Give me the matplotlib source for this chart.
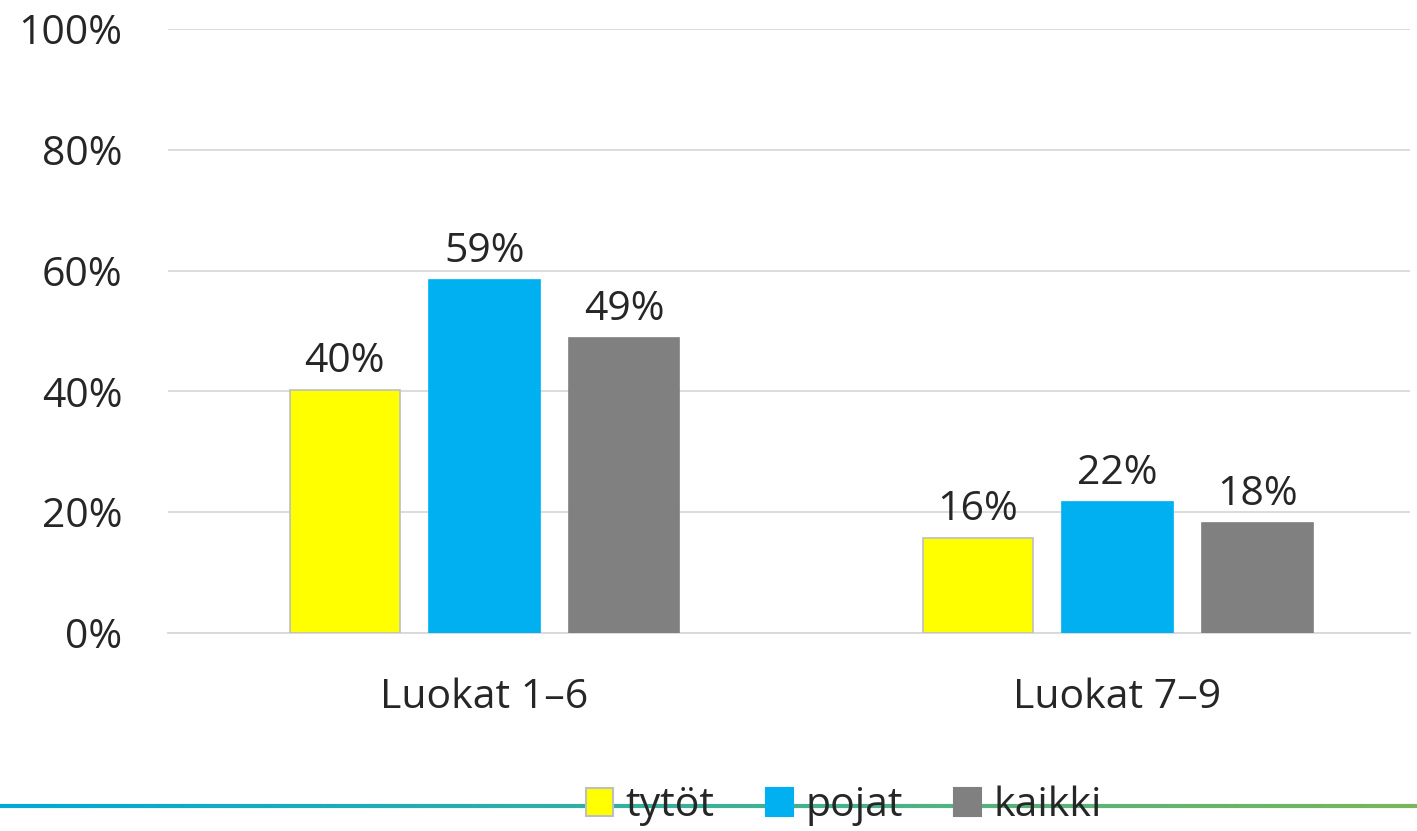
import matplotlib
matplotlib.use("Agg")
import matplotlib.pyplot as plt
import numpy as np
from matplotlib.collections import LineCollection
from matplotlib.patches import Patch

categories = ["Luokat 1–6", "Luokat 7–9"]
series_names = ["tytöt", "pojat", "kaikki"]
tytot = [40.2, 15.7]
pojat = [58.4, 21.7]
kaikki = [48.8, 18.2]
labels_tytot = ["40%", "16%"]
labels_pojat = ["59%", "22%"]
labels_kaikki = ["49%", "18%"]
yticks = [0, 20, 40, 60, 80, 100]
ytick_labels = ["0%", "20%", "40%", "60%", "80%", "100%"]

colors = ["#FFFF00", "#00B0F0", "#808080"]
edges = ["#BFBFBF", "#00B0F0", "#808080"]
text_color = "#262626"

plt.rcParams['font.family'] = ['Open Sans', 'DejaVu Sans']
FS = 29.5

fig = plt.figure(figsize=(14.17, 8.31), dpi=100)
ax = fig.add_axes([168/1417, 1-633/831, (1410-168)/1417, (633-29)/831])

x = np.arange(len(categories))
width = 0.174
offset = 0.221
series = [tytot, pojat, kaikki]
labels = [labels_tytot, labels_pojat, labels_kaikki]
for i, (vals, lab) in enumerate(zip(series, labels)):
    pos = x + (i - 1) * offset
    bars = ax.bar(pos, vals, width=width, color=colors[i], edgecolor=edges[i],
                  linewidth=1.2, zorder=3, label=series_names[i])
    for b, t in zip(bars, lab):
        ax.annotate(t, (b.get_x() + b.get_width()/2, b.get_height()),
                    xytext=(0, 6), textcoords="offset points",
                    ha="center", va="bottom", fontsize=FS, color=text_color)

ax.set_xlim(-0.5, 1.462)
ax.set_ylim(0, 100)
ax.set_yticks(yticks)
ax.set_yticklabels(ytick_labels, fontsize=FS, color=text_color)
ax.set_xticks(x)
ax.set_xticklabels(categories, fontsize=FS, color=text_color)
ax.tick_params(axis='y', length=0, pad=33)
ax.tick_params(axis='x', length=0, pad=32)
ax.grid(axis='y', color="#D9D9D9", linewidth=1.3, zorder=0)
for s in ["top", "right", "left"]:
    ax.spines[s].set_visible(False)
ax.spines["bottom"].set_color("#D9D9D9")
ax.spines["bottom"].set_linewidth(1.3)

# gradient decoration line at bottom
n = 300
xs = np.linspace(0, 1, n + 1)
segs = [[(xs[k], 1-806/831), (xs[k+1], 1-806/831)] for k in range(n)]
c1 = np.array([0/255, 169/255, 214/255])
c2 = np.array([122/255, 182/255, 90/255])
cols = [tuple(c1 + (c2 - c1) * (k / n)) for k in range(n)]
lc = LineCollection(segs, colors=cols, linewidths=3.0, transform=fig.transFigure, zorder=0)
fig.add_artist(lc)

handles = [Patch(facecolor=colors[i], edgecolor=edges[i], linewidth=1.5) for i in range(3)]
leg = fig.legend(handles, series_names, loc="center", bbox_to_anchor=(844/1417, 1-806/831),
                 ncol=3, frameon=False, fontsize=FS, handlelength=0.66, handleheight=0.66,
                 handletextpad=0.3, columnspacing=1.25, labelcolor=text_color,
                 borderpad=0, borderaxespad=0)
leg.set_zorder(5)

fig.savefig("out.png", dpi=100)
